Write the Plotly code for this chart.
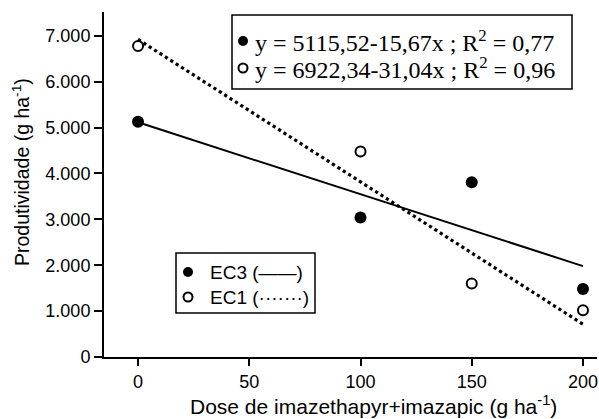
import plotly.graph_objects as go

# ---- data ----
doses = [0, 100, 150, 200]
ec3_values = [5130, 3040, 3810, 1480]
ec1_values = [6780, 4480, 1600, 1020]

ec3_intercept, ec3_slope = 5115.52, -15.67
ec1_intercept, ec1_slope = 6922.34, -31.04
line_x = [0, 200]

x_ticks = [0, 50, 100, 150, 200]
y_ticks = [0, 1000, 2000, 3000, 4000, 5000, 6000, 7000]
y_tick_labels = ["0", "1.000", "2.000", "3.000", "4.000", "5.000", "6.000", "7.000"]

eq_labels = ["y = 5115,52-15,67x ; R<sup>2</sup> = 0,77",
             "y = 6922,34-31,04x ; R<sup>2</sup> = 0,96"]
series_labels = ["EC3 (——)", "EC1 (·······)"]
x_title = "Dose de imazethapyr+imazapic (g ha<sup>-1</sup>)"
y_title = "Produtividade (g ha<sup>-1</sup>)"

# ---- layout geometry (pixels) ----
W, H = 599, 419
ML, MR, MT, MB = 104, 2, 12, 62
PW, PH = W - ML - MR, H - MT - MB


def px(x):
    return (x - ML) / PW


def py(y):
    return (H - MB - y) / PH


SANS = "Liberation Sans, Arial, sans-serif"
SERIF = "Liberation Serif, Times New Roman, serif"

fig = go.Figure()

# regression lines
fig.add_trace(go.Scatter(
    x=line_x, y=[ec3_intercept + ec3_slope * v for v in line_x],
    mode="lines", line=dict(color="black", width=2), showlegend=False))
fig.add_trace(go.Scatter(
    x=line_x, y=[ec1_intercept + ec1_slope * v for v in line_x],
    mode="lines", line=dict(color="black", width=3.2, dash="dot"), showlegend=False))

# observed points
fig.add_trace(go.Scatter(
    x=doses, y=ec3_values, mode="markers",
    marker=dict(color="black", size=12, line=dict(width=0)), showlegend=False))
fig.add_trace(go.Scatter(
    x=doses, y=ec1_values, mode="markers",
    marker=dict(color="white", size=10, line=dict(color="black", width=2)), showlegend=False))

shapes = []
annotations = []

# legend box 1 (equations)
shapes.append(dict(type="rect", xref="paper", yref="paper",
                   x0=px(232), x1=px(572), y0=py(89), y1=py(15),
                   line=dict(color="black", width=1.5), fillcolor="white", layer="below"))
# legend box 2 (series)
shapes.append(dict(type="rect", xref="paper", yref="paper",
                   x0=px(176), x1=px(315), y0=py(313), y1=py(253),
                   line=dict(color="black", width=1.5), fillcolor="white", layer="below"))


def legend_dot(cx, cy, filled):
    r = 5 if filled else 4.5
    return dict(type="circle", xref="paper", yref="paper",
                xsizemode="pixel", ysizemode="pixel",
                xanchor=px(cx), yanchor=py(cy),
                x0=-r, x1=r, y0=-r, y1=r,
                fillcolor="black" if filled else "white",
                line=dict(color="black", width=0 if filled else 2))


rows1 = [41, 68]
rows2 = [272, 297]
for i, (lab, yy) in enumerate(zip(eq_labels, rows1)):
    shapes.append(legend_dot(243, yy, i == 0))
    annotations.append(dict(text=lab, xref="paper", yref="paper",
                            x=px(253), y=py(yy), xanchor="left", yanchor="middle",
                            showarrow=False, font=dict(family=SERIF, size=24, color="black")))
for i, (lab, yy) in enumerate(zip(series_labels, rows2)):
    shapes.append(legend_dot(188, yy, i == 0))
    annotations.append(dict(text=lab, xref="paper", yref="paper",
                            x=px(208), y=py(yy), xanchor="left", yanchor="middle",
                            showarrow=False, font=dict(family=SANS, size=19, color="black")))

# axis titles
annotations.append(dict(text=x_title, xref="paper", yref="paper",
                        x=px(373), y=py(405), xanchor="center", yanchor="middle",
                        showarrow=False, font=dict(family=SANS, size=21, color="black")))
annotations.append(dict(text=y_title, xref="paper", yref="paper",
                        x=px(21), y=py(172), xanchor="center", yanchor="middle", textangle=-90,
                        showarrow=False, font=dict(family=SANS, size=19.5, color="black")))

fig.update_layout(
    width=W, height=H,
    margin=dict(l=ML, r=MR, t=MT, b=MB, pad=0),
    paper_bgcolor="white", plot_bgcolor="white",
    showlegend=False,
    shapes=shapes, annotations=annotations,
    font=dict(family=SANS, color="black"),
    xaxis=dict(range=[-15.3, 206.3], tickvals=x_ticks, showgrid=False, zeroline=False,
               showline=True, linecolor="black", linewidth=2,
               ticks="outside", ticklen=7, tickwidth=1.5, tickcolor="black",
               tickfont=dict(family=SANS, size=18, color="black")),
    yaxis=dict(range=[0, 7520], tickvals=y_ticks, ticktext=y_tick_labels,
               showgrid=False, zeroline=False,
               showline=True, linecolor="black", linewidth=2,
               ticks="outside", ticklen=8, tickwidth=1.5, tickcolor="black",
               tickfont=dict(family=SANS, size=18, color="black")),
)

fig.write_html("out.html", config={"displayModeBar": False},
               post_script="document.body.style.margin='0';")
